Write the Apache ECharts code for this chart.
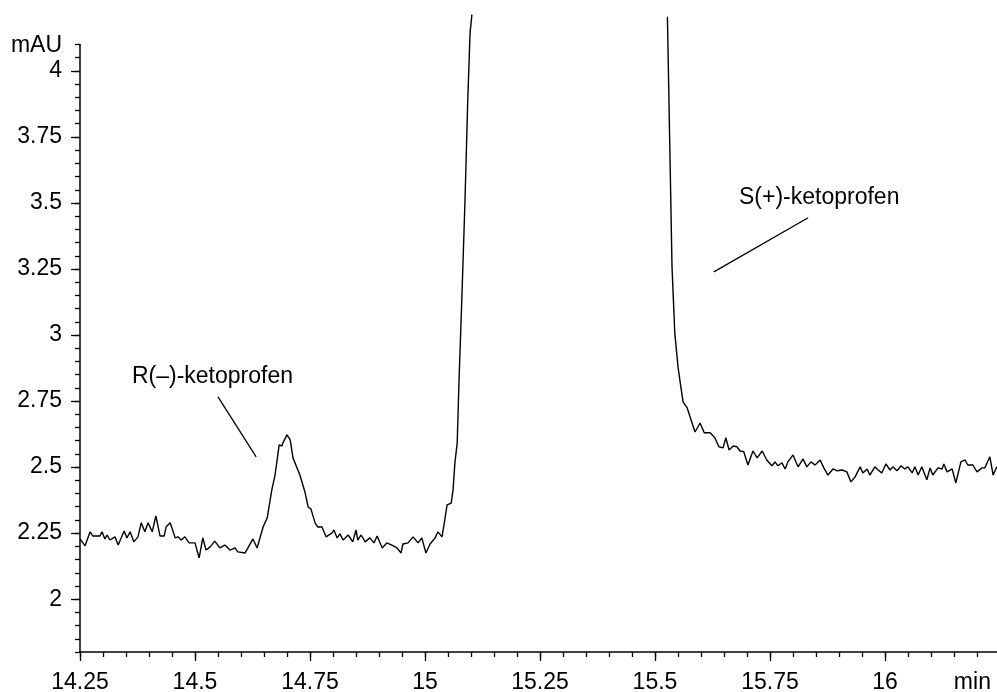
<html>
<head>
    <meta charset="utf-8">
    <title>ketoprofen chromatogram</title>
    <script src="https://cdn.jsdelivr.net/npm/echarts@6/dist/echarts.min.js"></script>
</head>
<body style="margin:0">
    <div id="main" style="width: 997px;height:692px;"></div>
    <script type="text/javascript">
        // retention time (min) and detector signal (mAU), null = peak runs off the top
        var time = [14.25, 14.261, 14.272, 14.278, 14.293, 14.298, 14.304, 14.309, 14.315, 14.326,
            14.333, 14.346, 14.352, 14.359, 14.367, 14.376, 14.383, 14.391, 14.398, 14.407,
            14.415, 14.424, 14.433, 14.437, 14.446, 14.457, 14.463, 14.470, 14.478, 14.487,
            14.500, 14.509, 14.517, 14.524, 14.533, 14.543, 14.554, 14.565, 14.576, 14.587,
            14.593, 14.609, 14.615, 14.626, 14.635, 14.648, 14.657, 14.667, 14.674, 14.683,
            14.689, 14.691, 14.700, 14.707, 14.713, 14.728, 14.739, 14.746, 14.752, 14.761,
            14.767, 14.776, 14.785, 14.798, 14.802, 14.809, 14.815, 14.822, 14.833, 14.843,
            14.850, 14.854, 14.861, 14.870, 14.880, 14.889, 14.896, 14.907, 14.917, 14.928,
            14.939, 14.948, 14.952, 14.963, 14.974, 14.985, 14.993, 15.002, 15.011, 15.022,
            15.028, 15.037, 15.043, 15.048, 15.057, 15.061, 15.065, 15.070, 15.074, 15.080,
            15.087, 15.093, 15.098, 15.102, 15.3,
            15.527, 15.529, 15.533, 15.537, 15.543, 15.550, 15.554, 15.561, 15.570, 15.587,
            15.598, 15.607, 15.620, 15.630, 15.639, 15.648, 15.654, 15.661, 15.670, 15.678,
            15.685, 15.693, 15.702, 15.713, 15.722, 15.733, 15.743, 15.754, 15.761, 15.767,
            15.776, 15.783, 15.789, 15.800, 15.811, 15.822, 15.830, 15.839, 15.848, 15.859,
            15.867, 15.876, 15.887, 15.896, 15.907, 15.917, 15.926, 15.935, 15.946, 15.952,
            15.961, 15.967, 15.978, 15.985, 15.993, 16.002, 16.011, 16.017, 16.026, 16.035,
            16.043, 16.050, 16.059, 16.065, 16.072, 16.080, 16.091, 16.098, 16.104, 16.115,
            16.124, 16.128, 16.135, 16.146, 16.154, 16.165, 16.174, 16.180, 16.191, 16.200,
            16.211, 16.217, 16.228, 16.235, 16.243];
        var mau = [2.228, 2.202, 2.255, 2.239, 2.239, 2.255, 2.228, 2.243, 2.224, 2.236,
            2.205, 2.258, 2.232, 2.255, 2.217, 2.236, 2.289, 2.255, 2.289, 2.255,
            2.315, 2.239, 2.239, 2.273, 2.289, 2.232, 2.236, 2.224, 2.236, 2.213,
            2.213, 2.156, 2.232, 2.186, 2.198, 2.220, 2.194, 2.205, 2.186, 2.194,
            2.179, 2.175, 2.194, 2.228, 2.194, 2.273, 2.308, 2.414, 2.470, 2.584,
            2.580, 2.592, 2.622, 2.603, 2.535, 2.470, 2.406, 2.349, 2.342, 2.289,
            2.273, 2.273, 2.236, 2.251, 2.262, 2.232, 2.247, 2.224, 2.243, 2.217,
            2.262, 2.224, 2.243, 2.217, 2.232, 2.213, 2.239, 2.194, 2.213, 2.205,
            2.194, 2.175, 2.209, 2.213, 2.236, 2.213, 2.232, 2.175, 2.209, 2.232,
            2.255, 2.236, 2.300, 2.357, 2.364, 2.414, 2.516, 2.592, 2.830, 3.133,
            3.512, 3.891, 4.145, 4.213, null,
            4.205, 4.016, 3.637, 3.258, 3.008, 2.880, 2.830, 2.747, 2.724, 2.633,
            2.667, 2.630, 2.630, 2.611, 2.577, 2.573, 2.611, 2.565, 2.580, 2.577,
            2.561, 2.558, 2.508, 2.561, 2.535, 2.561, 2.527, 2.505, 2.520, 2.505,
            2.516, 2.493, 2.520, 2.546, 2.501, 2.531, 2.501, 2.520, 2.508, 2.527,
            2.497, 2.470, 2.493, 2.486, 2.489, 2.482, 2.444, 2.463, 2.501, 2.478,
            2.493, 2.470, 2.501, 2.489, 2.478, 2.512, 2.489, 2.501, 2.486, 2.505,
            2.493, 2.501, 2.478, 2.501, 2.470, 2.501, 2.452, 2.497, 2.470, 2.497,
            2.493, 2.512, 2.482, 2.493, 2.440, 2.520, 2.527, 2.508, 2.508, 2.482,
            2.497, 2.497, 2.539, 2.470, 2.501];

        var xTicks = [14.25, 14.5, 14.75, 15, 15.25, 15.5, 15.75, 16];
        var yTicks = [2, 2.25, 2.5, 2.75, 3, 3.25, 3.5, 3.75, 4];

        // peak labels: text position and leader line ends, in data units
        var peakNames = ['R(\u2013)-ketoprofen', 'S(+)-ketoprofen'];
        var namePos = [[14.538, 2.842], [15.857, 3.520]];
        var leaderFrom = [[14.550, 2.766], [15.833, 3.444]];
        var leaderTo = [[14.633, 2.539], [15.628, 3.239]];

        var font = 'Liberation Sans, Arial, Helvetica, sans-serif';
        var unitX = 16.19;   // where "min" sits on the x axis
        var unitY = 4.095;   // where "mAU" sits on the y axis

        var myChart = echarts.init(document.getElementById('main'));

        var points = [];
        for (var i = 0; i < time.length; i++) {
            points.push([time[i], mau[i]]);
        }

        function fmt(v) {
            return String(Math.round(v * 100) / 100);
        }

        var lineData = [];
        var textData = [];
        for (var j = 0; j < peakNames.length; j++) {
            lineData.push([{coord: leaderFrom[j]}, {coord: leaderTo[j]}]);
            textData.push({coord: namePos[j], name: peakNames[j]});
        }

        var minorX = {
            type: 'value', min: 14.25, max: 16.25, interval: 0.05,
            axisLine: {lineStyle: {color: '#000', width: 1.5}},
            axisTick: {length: 5, lineStyle: {color: '#000', width: 1.3}},
            axisLabel: {show: false},
            splitLine: {show: false}
        };
        var majorX = {
            type: 'value', min: 14.25, max: 16.25, position: 'bottom',
            axisLine: {show: false},
            axisTick: {length: 9, customValues: xTicks, lineStyle: {color: '#000', width: 1.3}},
            axisLabel: {
                customValues: xTicks.concat([unitX]), margin: 19,
                fontSize: 23, fontFamily: font, color: '#000',
                formatter: function (v) { return Math.abs(v - unitX) < 1e-6 ? 'min' : fmt(v); }
            },
            splitLine: {show: false}
        };
        var minorY = {
            type: 'value', min: 1.8, max: 4.1, interval: 0.05,
            axisLine: {show: true, lineStyle: {color: '#000', width: 1.5}},
            axisTick: {show: true, length: 5, lineStyle: {color: '#000', width: 1.3}},
            axisLabel: {show: false},
            splitLine: {show: false}
        };
        var majorY = {
            type: 'value', min: 1.8, max: 4.1, position: 'left',
            axisLine: {show: false},
            axisTick: {show: true, length: 9, customValues: yTicks, lineStyle: {color: '#000', width: 1.3}},
            axisLabel: {
                customValues: yTicks.concat([unitY]), margin: 18,
                fontSize: 23, fontFamily: font, color: '#000',
                formatter: function (v) { return Math.abs(v - unitY) < 1e-6 ? 'mAU' : fmt(v); }
            },
            splitLine: {show: false}
        };

        var option = {
            backgroundColor: '#fff',
            animation: false,
            grid: {left: 80, right: -3, top: 44.5, bottom: 40, outerBoundsMode: 'none'},
            xAxis: [minorX, majorX],
            yAxis: [minorY, majorY],
            series: [
                {
                    type: 'line',
                    data: points,
                    showSymbol: false,
                    clip: false,
                    connectNulls: false,
                    lineStyle: {color: '#000', width: 1.4},
                    markLine: {
                        silent: true,
                        symbol: ['none', 'none'],
                        label: {show: false},
                        lineStyle: {color: '#000', width: 1.3, type: 'solid'},
                        data: lineData
                    },
                    markPoint: {
                        silent: true,
                        symbol: 'rect',
                        symbolSize: 1,
                        itemStyle: {color: 'rgba(0,0,0,0)'},
                        label: {
                            show: true, position: 'inside', formatter: '{b}',
                            fontSize: 23, fontFamily: font, color: '#000'
                        },
                        data: textData
                    }
                }
            ]
        };

        myChart.setOption(option);
    </script>
</body>
</html>
